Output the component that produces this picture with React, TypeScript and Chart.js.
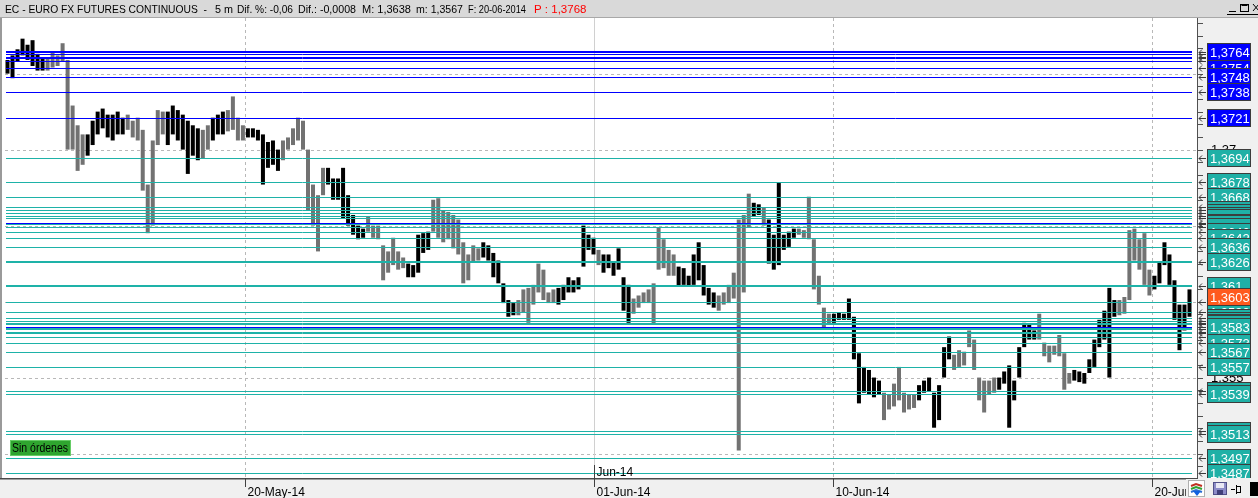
import React, { useEffect, useRef } from 'react';
import { Chart, registerables } from 'chart.js';

Chart.register(...registerables);

// ---------- data ----------
const HIGHS = [
  1.3759, 1.3762, 1.3766, 1.3773, 1.3769, 1.3772, 1.3763, 1.3760, 1.3760, 1.3764, 1.3762, 1.3770,
  1.3759, 1.3729, 1.3716, 1.3710, 1.3710, 1.3719, 1.3725, 1.3727, 1.3723, 1.3723, 1.3725, 1.3721,
  1.3723, 1.3719, 1.3721, 1.3713, 1.3677, 1.3706, 1.3726, 1.3725, 1.3725, 1.3729, 1.3726, 1.3723,
  1.3719, 1.3716, 1.3714, 1.3713, 1.3716, 1.3721, 1.3723, 1.3725, 1.3726, 1.3735, 1.3721, 1.3716,
  1.3714, 1.3714, 1.3713, 1.3710, 1.3705, 1.3706, 1.3700, 1.3706, 1.3708, 1.3714, 1.3721, 1.3719,
  1.3700, 1.3677, 1.3670, 1.3688, 1.3688, 1.3681, 1.3681, 1.3688, 1.3670, 1.3657, 1.3650, 1.3648,
  1.3656, 1.3650, 1.3650, 1.3637, 1.3633, 1.3642, 1.3633, 1.3629, 1.3625, 1.3624, 1.3644, 1.3645,
  1.3646, 1.3667, 1.3668, 1.3660, 1.3659, 1.3657, 1.3654, 1.3639, 1.3631, 1.3637, 1.3635, 1.3639,
  1.3637, 1.3632, 1.3627, 1.3612, 1.3601, 1.3599, 1.3601, 1.3608, 1.3609, 1.3611, 1.3625, 1.3621,
  1.3606, 1.3608, 1.3609, 1.3611, 1.3616, 1.3614, 1.3616, 1.3650, 1.3644, 1.3642, 1.3634, 1.3631,
  1.3631, 1.3626, 1.3635, 1.3616, 1.3611, 1.3602, 1.3604, 1.3606, 1.3608, 1.3612, 1.3649, 1.3641,
  1.3634, 1.3631, 1.3623, 1.3622, 1.3617, 1.3631, 1.3639, 1.3624, 1.3609, 1.3606, 1.3604, 1.3606,
  1.3611, 1.3619, 1.3654, 1.3657, 1.3671, 1.3665, 1.3664, 1.3662, 1.3654, 1.3644, 1.3678, 1.3644,
  1.3646, 1.3648, 1.3648, 1.3647, 1.3669, 1.3641, 1.3617, 1.3596, 1.3592, 1.3592, 1.3593, 1.3592,
  1.3602, 1.3590, 1.3566, 1.3557, 1.3555, 1.3550, 1.3548, 1.3540, 1.3539, 1.3546, 1.3557, 1.3540,
  1.3539, 1.3539, 1.3545, 1.3548, 1.3550, 1.3540, 1.3545, 1.3570, 1.3577, 1.3565, 1.3568, 1.3567,
  1.3581, 1.3575, 1.3550, 1.3548, 1.3548, 1.3550, 1.3550, 1.3554, 1.3558, 1.3548, 1.3570, 1.3586,
  1.3585, 1.3581, 1.3592, 1.3573, 1.3571, 1.3571, 1.3578, 1.3566, 1.3553, 1.3555, 1.3554, 1.3553,
  1.3562, 1.3575, 1.3588, 1.3594, 1.3609, 1.3601, 1.3601, 1.3603, 1.3647, 1.3648, 1.3641, 1.3645,
  1.3621, 1.3617, 1.3626, 1.3639, 1.3631, 1.3614, 1.3598, 1.3598, 1.3608,
];

const LOWS = [
  1.3750, 1.3747, 1.3758, 1.3762, 1.3759, 1.3755, 1.3752, 1.3752, 1.3752, 1.3754, 1.3755, 1.3758,
  1.3700, 1.3700, 1.3686, 1.3690, 1.3696, 1.3703, 1.3710, 1.3714, 1.3708, 1.3706, 1.3710, 1.3710,
  1.3713, 1.3708, 1.3706, 1.3673, 1.3645, 1.3650, 1.3703, 1.3710, 1.3703, 1.3710, 1.3706, 1.3700,
  1.3684, 1.3696, 1.3693, 1.3694, 1.3700, 1.3706, 1.3710, 1.3710, 1.3712, 1.3713, 1.3706, 1.3706,
  1.3708, 1.3708, 1.3706, 1.3677, 1.3688, 1.3690, 1.3686, 1.3693, 1.3700, 1.3703, 1.3706, 1.3700,
  1.3660, 1.3650, 1.3633, 1.3670, 1.3677, 1.3667, 1.3667, 1.3655, 1.3650, 1.3644, 1.3641, 1.3642,
  1.3646, 1.3642, 1.3641, 1.3614, 1.3619, 1.3624, 1.3621, 1.3622, 1.3616, 1.3616, 1.3619, 1.3632,
  1.3634, 1.3646, 1.3642, 1.3639, 1.3641, 1.3635, 1.3631, 1.3612, 1.3614, 1.3626, 1.3627, 1.3629,
  1.3627, 1.3616, 1.3612, 1.3599, 1.3590, 1.3591, 1.3591, 1.3593, 1.3586, 1.3598, 1.3606, 1.3601,
  1.3599, 1.3599, 1.3598, 1.3601, 1.3606, 1.3606, 1.3608, 1.3623, 1.3634, 1.3631, 1.3624, 1.3619,
  1.3622, 1.3617, 1.3621, 1.3594, 1.3586, 1.3592, 1.3596, 1.3599, 1.3599, 1.3585, 1.3621, 1.3622,
  1.3617, 1.3617, 1.3610, 1.3611, 1.3610, 1.3611, 1.3614, 1.3604, 1.3598, 1.3596, 1.3594, 1.3598,
  1.3599, 1.3602, 1.3502, 1.3606, 1.3649, 1.3656, 1.3657, 1.3650, 1.3625, 1.3621, 1.3624, 1.3634,
  1.3636, 1.3642, 1.3644, 1.3642, 1.3641, 1.3608, 1.3598, 1.3583, 1.3585, 1.3586, 1.3588, 1.3588,
  1.3588, 1.3562, 1.3533, 1.3540, 1.3539, 1.3537, 1.3539, 1.3522, 1.3529, 1.3531, 1.3535, 1.3527,
  1.3529, 1.3530, 1.3535, 1.3540, 1.3541, 1.3517, 1.3522, 1.3550, 1.3562, 1.3555, 1.3557, 1.3558,
  1.3570, 1.3555, 1.3535, 1.3527, 1.3539, 1.3540, 1.3542, 1.3546, 1.3517, 1.3535, 1.3550, 1.3570,
  1.3575, 1.3575, 1.3575, 1.3564, 1.3560, 1.3565, 1.3564, 1.3542, 1.3546, 1.3548, 1.3547, 1.3546,
  1.3553, 1.3557, 1.3570, 1.3575, 1.3550, 1.3590, 1.3591, 1.3592, 1.3601, 1.3627, 1.3621, 1.3611,
  1.3604, 1.3608, 1.3612, 1.3624, 1.3611, 1.3588, 1.3568, 1.3581, 1.3590,
];

// k = dark (rising) bar, g = grey (falling) bar
const BAR_TONE =
  'kkkkkkkk' + 'gggggggg' + 'kkkkkkkk' + 'gggggggg' + 'kkkkkkk' + 'gg' + 'kkk' + 'gggg' +
  'kkkkkkk' + 'ggggggggg' + 'kkkkkkkk' + 'gggggggg' + 'kkkkk' + 'gggggggggg' + 'kkkkkkk' +
  'gggggggg' + 'kkkkkkkk' + 'g' + 'kkkkkk' + 'ggggggggg' + 'kkkkkkkk' + 'ggggggg' + 'kk' + 'g' +
  'kkkkkk' + 'ggggggg' + 'kkkkkkkkkk' + 'ggggggg' + 'kkkkkkk' + 'ggggggggg' + 'kkkkkkkk' +
  'ggggggg' + 'kkkkkkkkk' + 'ggggggg' + 'kkkkkkkk';

const BLUE_LEVELS = [1.3764, 1.3763, 1.3761, 1.3760, 1.3758, 1.3754, 1.3748, 1.3738, 1.3721, 1.3652, 1.3583];
const TEAL_LEVELS = [
  1.36945, 1.36785, 1.36685, 1.3662, 1.3660, 1.3658, 1.3656, 1.3655, 1.3651, 1.3649, 1.3646, 1.3642,
  1.3636, 1.3626, 1.3610, 1.3600, 1.3593, 1.3589, 1.3587, 1.3586, 1.3585, 1.3582, 1.3580, 1.3579,
  1.3577, 1.3573, 1.3567, 1.3557, 1.3541, 1.3539, 1.3515, 1.3513, 1.3497, 1.3487,
];
const HEAVY_LEVELS = [1.3764, 1.3651, 1.3626, 1.3610, 1.3582];

const GRID_LEVELS = [1.375, 1.37, 1.365, 1.36, 1.355, 1.35];
const GRID_LABELS = ['1,375', '1,37', '1,365', '1,36', '1,355', '1,35'];
const Y_MIN = 1.34839;
const Y_MAX = 1.37866;

const DATE_LABELS = ['20-May-14', '01-Jun-14', '10-Jun-14', '20-Jun'];
const DATE_AT = [47.4, 117.1, 164.8, 228.5]; // bar index where each date starts
const MONTH_LABEL = 'Jun-14';

// price tags on the right axis, in drawing order: [price, text, kind]
const TAGS: Array<[number, string, string]> = [
  [1.3758, '1,3758', 'b'], [1.3754, '1,3754', 'b'], [1.3764, '1,3764', 'b'], [1.3748, '1,3748', 'b'],
  [1.3738, '1,3738', 'b'], [1.3721, '1,3721', 'b'], [1.36945, '1,3694', 't'], [1.36785, '1,3678', 't'],
  [1.3662, '1,3662', 't'], [1.36685, '1,3668', 't'], [1.3660, '1,366', 't'], [1.3658, '1,3658', 't'],
  [1.3656, '1,3656', 't'], [1.3655, '1,3655', 't'], [1.3652, '1,3652', 'b'], [1.3651, '1,3651', 't'],
  [1.3649, '1,3649', 't'], [1.3646, '1,3646', 't'], [1.3642, '1,3642', 't'], [1.3636, '1,3636', 't'],
  [1.3626, '1,3626', 't'], [1.3610, '1,361', 't'], [1.3600, '1,36', 't'], [1.3593, '1,3593', 't'],
  [1.3589, '1,3589', 't'], [1.3587, '1,3587', 't'], [1.3586, '1,3586', 't'], [1.3585, '1,3585', 't'],
  [1.3582, '1,3582', 't'], [1.3580, '1,358', 't'], [1.3579, '1,3579', 't'], [1.3577, '1,3577', 't'],
  [1.3583, '1,3583', 't'], [1.3573, '1,3573', 't'], [1.3567, '1,3567', 't'], [1.3557, '1,3557', 't'],
  [1.3541, '1,3541', 't'], [1.3539, '1,3539', 't'], [1.3515, '1,3515', 't'], [1.3513, '1,3513', 't'],
  [1.3497, '1,3497', 't'], [1.3487, '1,3487', 't'], [1.3603, '1,3603', 'o'],
];

const TITLE_PARTS = [
  'EC - EURO FX FUTURES CONTINUOUS  -', '5 m', 'Dif. %: -0,06', 'Dif.: -0,0008',
  'M: 1,3638', 'm: 1,3567', 'F: 20-06-2014',
];
const TITLE_PRICE = 'P : 1,3768';
const ORDERS_TEXT = 'Sin órdenes';

// ---------- layout / style ----------
const W = 1258;
const H = 498;
const PLOT_L = 5;
const PLOT_R = 1192;
const AXIS_X = 1197;
const TOP = 18;
const BOTTOM = 478;
const FONT = '"Liberation Sans", Arial, sans-serif';
const TEAL = '#1eb2a8';
const BLUE = '#0000ff';
const TITLE_SLOTS: Array<[number, number]> = [[5, 202], [215, 18], [237, 56], [298, 58], [362, 49], [416, 47], [468, 58]];

const deco = {
  id: 'deco',
  beforeDraw(chart: any) {
    const { ctx } = chart;
    const x = chart.scales.x;
    const y = chart.scales.y;
    ctx.save();
    ctx.fillStyle = '#f0f0f0';
    ctx.fillRect(0, 0, W, H);
    ctx.fillStyle = '#ffffff';
    ctx.fillRect(2, TOP, AXIS_X - 2, BOTTOM - TOP);
    ctx.lineWidth = 1;
    ctx.strokeStyle = '#b8b8b8';
    ctx.setLineDash([3, 3]);
    GRID_LEVELS.forEach((v) => {
      const py = Math.round(y.getPixelForValue(v)) + 0.5;
      ctx.beginPath();
      ctx.moveTo(PLOT_L, py);
      ctx.lineTo(AXIS_X + 4, py);
      ctx.stroke();
    });
    DATE_AT.forEach((v, i) => {
      const px = Math.round(x.getPixelForValue(v)) + 0.5;
      ctx.strokeStyle = i === 1 ? '#d0d0d0' : '#b8b8b8';
      ctx.setLineDash(i === 1 ? [] : [3, 3]);
      ctx.beginPath();
      ctx.moveTo(px, TOP);
      ctx.lineTo(px, BOTTOM);
      ctx.stroke();
    });
    ctx.restore();
  },
  afterDatasetsDraw(chart: any) {
    const { ctx } = chart;
    const x = chart.scales.x;
    const y = chart.scales.y;
    const py = (v: number) => y.getPixelForValue(v);
    ctx.save();

    // horizontal level lines
    const level = (v: number, color: string) => {
      const heavy = HEAVY_LEVELS.includes(v);
      const yy = heavy ? Math.round(py(v)) : Math.round(py(v)) + 0.5;
      ctx.strokeStyle = color;
      ctx.lineWidth = heavy ? 2 : 1;
      ctx.beginPath();
      ctx.moveTo(PLOT_L + 1, yy);
      ctx.lineTo(PLOT_R, yy);
      ctx.stroke();
    };
    TEAL_LEVELS.forEach((v) => level(v, TEAL));
    BLUE_LEVELS.forEach((v) => level(v, BLUE));

    // left border
    ctx.fillStyle = '#9a9a9a';
    ctx.fillRect(0, TOP, 2, BOTTOM - TOP);

    // right axis line and minor ticks
    ctx.fillStyle = '#f0f0f0';
    ctx.fillRect(AXIS_X + 1, TOP, W - AXIS_X - 1, BOTTOM - TOP);
    ctx.strokeStyle = '#505050';
    ctx.lineWidth = 1;
    ctx.beginPath();
    ctx.moveTo(AXIS_X + 0.5, TOP);
    ctx.lineTo(AXIS_X + 0.5, BOTTOM);
    ctx.stroke();
    const step = 0.005 / 6;
    for (let v = 1.35 - step * 2; v < Y_MAX; v += step) {
      const t = Math.round(py(v)) + 0.5;
      if (t < TOP + 2 || t > BOTTOM - 1) continue;
      ctx.beginPath();
      ctx.moveTo(AXIS_X, t);
      ctx.lineTo(AXIS_X + 6, t);
      ctx.stroke();
    }
    // grid labels
    ctx.fillStyle = '#000';
    ctx.font = `13px ${FONT}`;
    ctx.textBaseline = 'middle';
    GRID_LEVELS.forEach((v, i) => ctx.fillText(GRID_LABELS[i], 1211, py(v) + 1));

    // arrows
    ctx.strokeStyle = '#3a3a3a';
    [...TEAL_LEVELS, ...BLUE_LEVELS].forEach((v) => {
      const t = Math.round(py(v)) + 0.5;
      ctx.beginPath();
      ctx.moveTo(AXIS_X + 9, t);
      ctx.lineTo(AXIS_X + 2, t);
      ctx.moveTo(AXIS_X + 5, t - 3);
      ctx.lineTo(AXIS_X + 2, t);
      ctx.lineTo(AXIS_X + 5, t + 3);
      ctx.stroke();
    });

    // price tags
    ctx.save();
    ctx.beginPath();
    ctx.rect(AXIS_X + 1, TOP, W - AXIS_X, BOTTOM - TOP);
    ctx.clip();
    ctx.font = `13px ${FONT}`;
    TAGS.forEach(([v, text, kind]) => {
      const c = Math.round(py(v));
      const top = c - 9;
      ctx.fillStyle = kind === 'b' ? BLUE : kind === 'o' ? '#ff5a1e' : '#1fb0a6';
      ctx.fillRect(1207, top, 44, 18);
      ctx.strokeStyle = '#3c3c3c';
      ctx.lineWidth = 1;
      ctx.strokeRect(1207.5, top + 0.5, 43, 17);
      ctx.fillStyle = '#ffffff';
      ctx.textBaseline = 'middle';
      ctx.fillText(text, 1210, c + 1);
    });
    ctx.restore();

    // bottom strip
    ctx.fillStyle = '#f0f0f0';
    ctx.fillRect(0, BOTTOM, W, H - BOTTOM);
    ctx.fillStyle = '#4a4a4a';
    ctx.fillRect(0, BOTTOM, AXIS_X + 1, 1.5);
    ctx.font = `12px ${FONT}`;
    ctx.textBaseline = 'alphabetic';
    DATE_AT.forEach((v, i) => {
      const px = Math.round(x.getPixelForValue(v)) + 0.5;
      ctx.strokeStyle = '#404040';
      ctx.beginPath();
      ctx.moveTo(px, BOTTOM);
      ctx.lineTo(px, BOTTOM + 9);
      ctx.stroke();
      ctx.fillStyle = '#000';
      ctx.fillText(DATE_LABELS[i], px + 2, 496);
      if (i === 1) {
        ctx.beginPath();
        ctx.moveTo(px, BOTTOM - 13);
        ctx.lineTo(px, BOTTOM);
        ctx.stroke();
        ctx.fillText(MONTH_LABEL, px + 2, 476);
      }
    });

    // bottom-right icons
    ctx.fillStyle = '#f0f0f0';
    ctx.fillRect(1186, BOTTOM + 1, W - 1186, H - BOTTOM);
    ctx.fillStyle = '#ffffff';
    ctx.fillRect(1188, 480, 17, 17);
    ctx.strokeStyle = '#b0b0b0';
    ctx.strokeRect(1188.5, 480.5, 16, 16);
    ctx.lineWidth = 2;
    [['#c03020', 484], ['#30a030', 487], ['#3070d0', 490]].forEach(([col, yy]) => {
      ctx.strokeStyle = col as string;
      ctx.beginPath();
      ctx.moveTo(1191, (yy as number) + 2);
      ctx.lineTo(1196, yy as number);
      ctx.lineTo(1202, (yy as number) + 2);
      ctx.stroke();
    });
    ctx.fillStyle = '#1060e0';
    ctx.beginPath();
    ctx.moveTo(1193, 491);
    ctx.lineTo(1201, 491);
    ctx.lineTo(1197, 496);
    ctx.fill();
    ctx.lineWidth = 1;
    ctx.fillStyle = '#8c8cc8';
    ctx.fillRect(1213, 482, 14, 13);
    ctx.strokeStyle = '#505088';
    ctx.strokeRect(1213.5, 482.5, 13, 12);
    ctx.fillStyle = '#e8e8f4';
    ctx.fillRect(1216, 483, 8, 5);
    ctx.fillStyle = '#40407a';
    ctx.fillRect(1217, 490, 6, 5);
    ctx.strokeStyle = '#000';
    ctx.beginPath();
    ctx.moveTo(1231, 489.5);
    ctx.lineTo(1235, 489.5);
    ctx.moveTo(1236.5, 485);
    ctx.lineTo(1236.5, 494);
    ctx.stroke();
    ctx.strokeRect(1236.5, 486.5, 4, 6);
    ctx.fillStyle = '#000';
    ctx.fillRect(1250, 482, 8, 14);

    // orders badge
    ctx.fillStyle = '#2fa52f';
    ctx.fillRect(10, 440, 61, 16);
    ctx.strokeStyle = '#66cc66';
    ctx.strokeRect(10.5, 440.5, 60, 15);
    ctx.fillStyle = '#000';
    ctx.font = `12px ${FONT}`;
    ctx.textBaseline = 'middle';
    ctx.fillText(ORDERS_TEXT, 12, 448.5, 56);

    // title bar
    ctx.fillStyle = '#d9d9d9';
    ctx.fillRect(0, 0, W, TOP);
    ctx.fillStyle = '#a8a8a8';
    ctx.fillRect(0, TOP - 1, W, 1);
    ctx.font = `11.5px ${FONT}`;
    ctx.textBaseline = 'alphabetic';
    ctx.fillStyle = '#000';
    TITLE_PARTS.forEach((t, i) => {
      const [sx, sw] = TITLE_SLOTS[i];
      ctx.fillText(t, sx, 13, sw);
    });
    ctx.fillStyle = '#ff0000';
    ctx.fillText(TITLE_PRICE, 534, 13, 54);
    // window buttons
    ctx.strokeStyle = '#000';
    ctx.lineWidth = 1;
    ctx.beginPath();
    ctx.moveTo(1229, 11.5);
    ctx.lineTo(1236, 11.5);
    ctx.moveTo(1227, 14.5);
    ctx.lineTo(W, 14.5);
    ctx.stroke();
    ctx.strokeRect(1240.5, 4.5, 8, 7);
    ctx.beginPath();
    ctx.moveTo(1241.5, 5.5);
    ctx.lineTo(1247.5, 5.5);
    ctx.stroke();
    ctx.beginPath();
    ctx.moveTo(1253, 4);
    ctx.lineTo(1259, 11);
    ctx.moveTo(1259, 4);
    ctx.lineTo(1253, 11);
    ctx.stroke();

    ctx.restore();
  },
};

export default function App() {
  const ref = useRef<HTMLCanvasElement>(null);
  useEffect(() => {
    const canvas = ref.current;
    if (!canvas) return;
    const chart = new Chart(canvas, {
      type: 'bar',
      data: {
        datasets: [
          {
            data: HIGHS.map((h, i) => ({ x: i, y: [LOWS[i], h] })) as any,
            backgroundColor: BAR_TONE.split('').map((c) => (c === 'k' ? '#000000' : '#727272')),
            borderWidth: 0,
            barPercentage: 0.8,
            categoryPercentage: 1,
          },
        ],
      },
      options: {
        responsive: false,
        animation: false,
        events: [],
        devicePixelRatio: 1,
        layout: { padding: { left: PLOT_L, right: W - PLOT_R, top: TOP, bottom: H - BOTTOM } },
        plugins: { legend: { display: false }, tooltip: { enabled: false } },
        scales: {
          x: { type: 'linear', min: -0.5, max: HIGHS.length - 0.5, display: false, offset: false },
          y: { min: Y_MIN, max: Y_MAX, display: false },
        },
      },
      plugins: [deco],
    });
    return () => chart.destroy();
  }, []);
  return (
    <div style={{ position: 'fixed', left: 0, top: 0, width: W, height: H }}>
      <canvas ref={ref} width={W} height={H} style={{ width: W, height: H, display: 'block' }} />
    </div>
  );
}
